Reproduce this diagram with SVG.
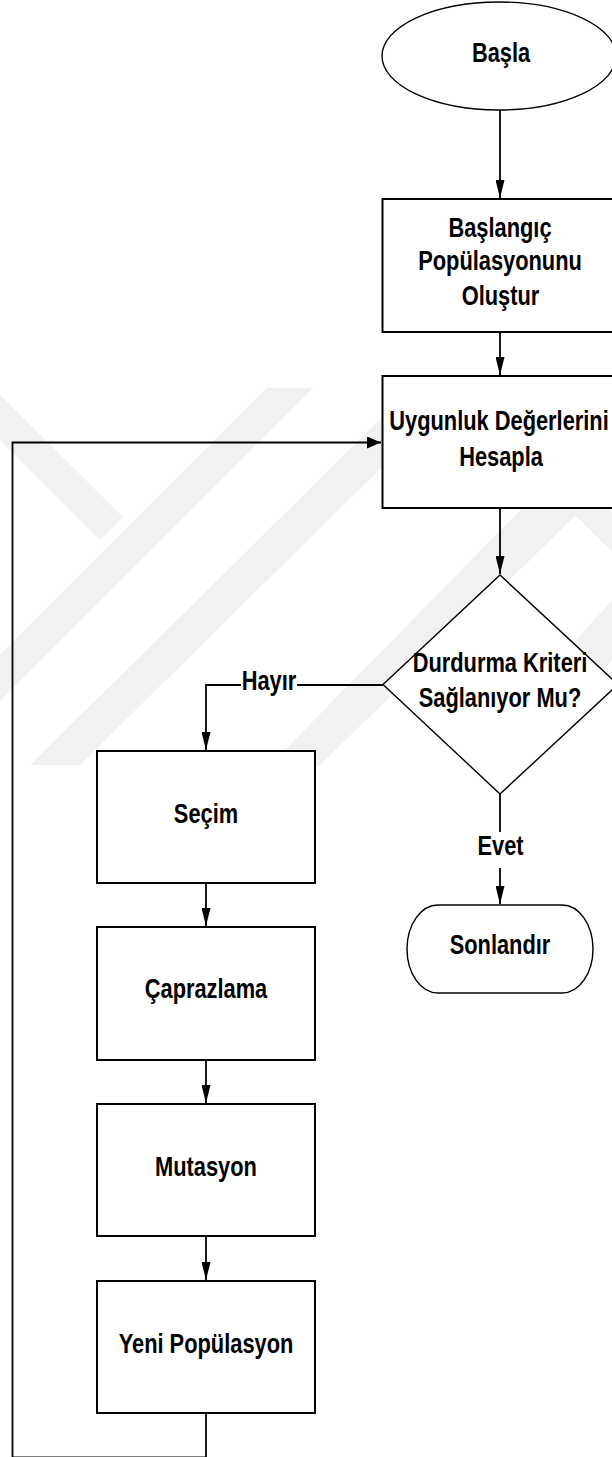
<svg xmlns="http://www.w3.org/2000/svg" width="612" height="1457" viewBox="0 0 612 1457">
  <defs>
    <style>
      .shape { fill: #ffffff; stroke: #000000; }
      .box { stroke-width: 2; }
      .thin { stroke-width: 1.4; }
      .conn { fill: none; stroke: #000000; stroke-width: 1.8; }
      .t { font-family: "Liberation Sans", Arial, Helvetica, sans-serif; font-weight: bold; font-size: 28px; fill: #000000; text-anchor: middle; }
      .wm { fill: #f1f1f1; stroke: none; }
    </style>
    <!-- arrowheads: tall/narrow for vertical runs, short/wide for horizontal runs -->
    <marker id="ah-v" markerUnits="userSpaceOnUse" viewBox="0 0 18 9" markerWidth="18" markerHeight="9" refX="18" refY="4.5" orient="auto">
      <path d="M0,0 L18,4.5 L0,9 Z" fill="#000000"/>
    </marker>
    <marker id="ah-h" markerUnits="userSpaceOnUse" viewBox="0 0 14 12" markerWidth="14" markerHeight="12" refX="14" refY="6" orient="auto">
      <path d="M0,0 L14,6 L0,12 Z" fill="#000000"/>
    </marker>
  </defs>

  <rect x="0" y="0" width="612" height="1457" fill="#ffffff"/>

  <!-- faint background emblem -->
  <g id="watermark">
    <polygon class="wm" points="267,388 313,388 0,701 0,655"/>
    <polygon class="wm" points="0,395 0,440 100,540 123,517"/>
    <polygon class="wm" points="420,380 470,380 80,765 30,765"/>
    <polygon class="wm" points="560,470 612,470 612,480 320,765 270,765"/>
    <polygon class="wm" points="612,600 612,660 525,760 470,760"/>
    <polygon class="wm" points="520,460 560,460 612,512 612,552"/>
  </g>

  <!-- connectors -->
  <g id="connectors">
    <path class="conn" d="M500,110 V198" marker-end="url(#ah-v)"/>
    <path class="conn" d="M500,332 V375" marker-end="url(#ah-v)"/>
    <path class="conn" d="M500,508 V574" marker-end="url(#ah-v)"/>
    <path class="conn" d="M500,794 V832"/>
    <path class="conn" d="M500,868 V904" marker-end="url(#ah-v)"/>
    <path class="conn" d="M383,685 H297"/>
    <path class="conn" d="M241,685 H206 V750" marker-end="url(#ah-v)"/>
    <path class="conn" d="M206,883 V926" marker-end="url(#ah-v)"/>
    <path class="conn" d="M206,1060 V1103" marker-end="url(#ah-v)"/>
    <path class="conn" d="M206,1236 V1280" marker-end="url(#ah-v)"/>
    <path class="conn" d="M206,1413 V1457.5 H12.5 V442.5 H381" marker-end="url(#ah-h)"/>
    <text class="t" transform="translate(269,690) scale(0.78,1)">Hayır</text>
    <text class="t" transform="translate(500.5,855) scale(0.78,1)">Evet</text>
  </g>

  <g id="node-basla">
    <ellipse class="shape thin" cx="499" cy="56" rx="117" ry="54"/>
    <text class="t" transform="translate(501,62) scale(0.78,1)">Başla</text>
  </g>

  <g id="node-baslangic">
    <rect class="shape box" x="382.5" y="199" width="236" height="133"/>
    <text class="t" transform="translate(500,237) scale(0.78,1)">Başlangıç</text>
    <text class="t" transform="translate(500,270) scale(0.78,1)">Popülasyonunu</text>
    <text class="t" transform="translate(500.5,305) scale(0.78,1)">Oluştur</text>
  </g>

  <g id="node-uygunluk">
    <rect class="shape box" x="382.5" y="376" width="236" height="132"/>
    <text class="t" transform="translate(499,430) scale(0.78,1)">Uygunluk Değerlerini</text>
    <text class="t" transform="translate(501,466) scale(0.78,1)">Hesapla</text>
  </g>

  <g id="node-durdurma">
    <polygon class="shape thin" points="500,575 618,684.5 500,794 383,684.5"/>
    <text class="t" transform="translate(500,672) scale(0.78,1)">Durdurma Kriteri</text>
    <text class="t" transform="translate(500,707) scale(0.78,1)">Sağlanıyor Mu?</text>
  </g>

  <g id="node-sonlandir">
    <rect class="shape thin" x="407" y="905" width="186" height="88" rx="31" ry="44"/>
    <text class="t" transform="translate(500,954) scale(0.78,1)">Sonlandır</text>
  </g>

  <g id="node-secim">
    <rect class="shape box" x="97" y="751" width="218" height="132"/>
    <text class="t" transform="translate(206,823) scale(0.78,1)">Seçim</text>
  </g>

  <g id="node-caprazlama">
    <rect class="shape box" x="97" y="927" width="218" height="133"/>
    <text class="t" transform="translate(206,998) scale(0.78,1)">Çaprazlama</text>
  </g>

  <g id="node-mutasyon">
    <rect class="shape box" x="97" y="1104" width="218" height="132"/>
    <text class="t" transform="translate(206,1176) scale(0.78,1)">Mutasyon</text>
  </g>

  <g id="node-yeni">
    <rect class="shape box" x="97" y="1281" width="218" height="132"/>
    <text class="t" transform="translate(206,1353) scale(0.78,1)">Yeni Popülasyon</text>
  </g>
</svg>
